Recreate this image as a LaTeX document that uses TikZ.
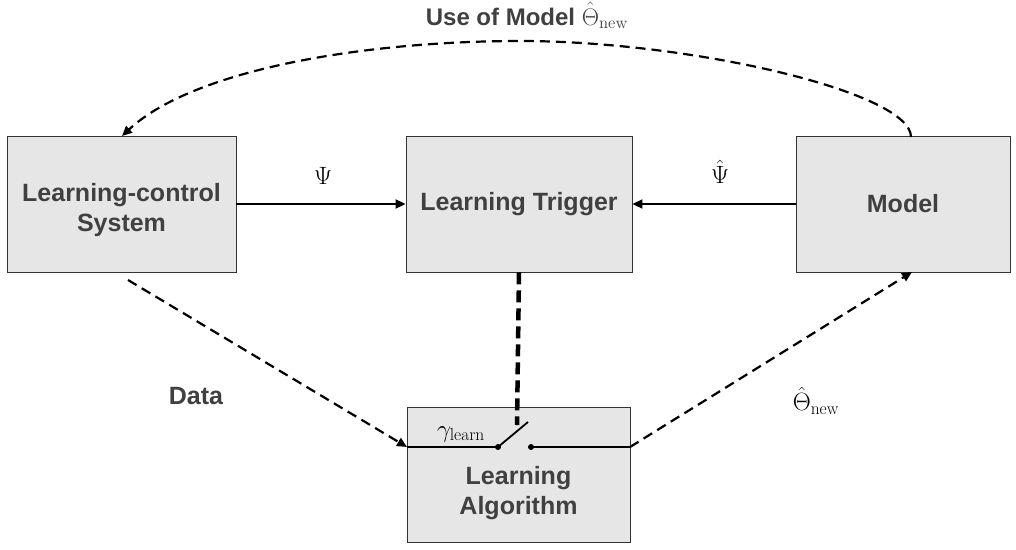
\RequirePackage{fix-cm}
\documentclass[tikz,border=0pt]{standalone}
\usepackage[no-math]{fontspec}
\setmainfont{Liberation Sans}
\usetikzlibrary{arrows.meta}
\definecolor{boxfill}{HTML}{E6E6E6}
\definecolor{txt}{HTML}{404040}
\begin{document}
\begin{tikzpicture}[x=1pt,y=-1pt,
  blk/.style={draw=black!80,line width=0.9pt,fill=boxfill,inner sep=0pt,
    text=txt,font=\fontsize{25}{30}\selectfont\bfseries,align=center},
  btxt/.style={text=txt,font=\fontsize{25}{30}\selectfont\bfseries,align=center,inner sep=0pt},
  arr/.style={line width=2pt,-{Triangle[length=10pt,width=9pt]}},
  darr/.style={line width=2.2pt,dash pattern=on 10pt off 6pt,-{Triangle[length=10pt,width=9pt]}},
  lbl/.style={font=\fontsize{25}{30}\selectfont},
  dot/.style={circle,fill=black,inner sep=0pt,minimum size=6pt}]
\useasboundingbox (0,0) rectangle (1016,549);
\node[blk,minimum width=229pt,minimum height=136pt] (lcs) at (121.5,204) {};
\node[btxt] (lcstxt) at (121.5,210) {Learning-control\\System};
\node[blk,minimum width=226pt,minimum height=136pt] (lt) at (519,204) {Learning Trigger};
\node[blk,minimum width=214pt,minimum height=136pt] (model) at (903,204) {Model};
\node[blk,minimum width=223pt,minimum height=135pt] (la) at (518.5,474.5) {};
\node[btxt] (latxt) at (518.5,493) {Learning\\Algorithm};
% switch
\coordinate (swL) at (407,447);
\coordinate (swR) at (630,447);
\node[dot] (piv) at (498,447) {};
\node[dot] (con) at (531,447) {};
\coordinate (lev) at (528,422);
\draw[line width=1.8pt] (swL) -- (piv.center) -- (lev);
\draw[line width=1.8pt] (con.center) -- (swR);
\node[lbl,anchor=base] (gam) at (461,437) {$\gamma_{\mathrm{learn}}$};
% trigger to switch
\draw[line width=4.5pt,dash pattern=on 12pt off 6pt] (lt.south) -- (517,425);
% horizontal arrows
\draw[arr] (lcs.east) -- (lt.west);
\draw[arr] (model.west) -- (lt.east);
\node[lbl] (psi) at (323,176) {$\Psi$};
\node[lbl] (psih) at (720,172) {$\hat{\Psi}$};
% data
\coordinate (ds) at (128,280);
\draw[darr] (ds) -- (swL);
\node[btxt] (data) at (196,396) {Data};
% to model
\coordinate (me) at (912,272);
\draw[darr] (swR) -- (me);
\node[lbl] (thn) at (816,401) {$\hat{\Theta}_{\mathrm{new}}$};
% top curve
\coordinate (ts) at (911,137);
\coordinate (tp) at (520,41);
\coordinate (te) at (122,136);
\draw[darr] (ts) .. controls (911,92) and (690,41) .. (tp) .. controls (370,41) and (195,68) .. (te);
\node[text=txt,font=\fontsize{24}{28}\selectfont,anchor=base] (use) at (527,25) {\bfseries Use of Model $\hat{\Theta}_{\mathrm{new}}$};
\end{tikzpicture}
\end{document}
